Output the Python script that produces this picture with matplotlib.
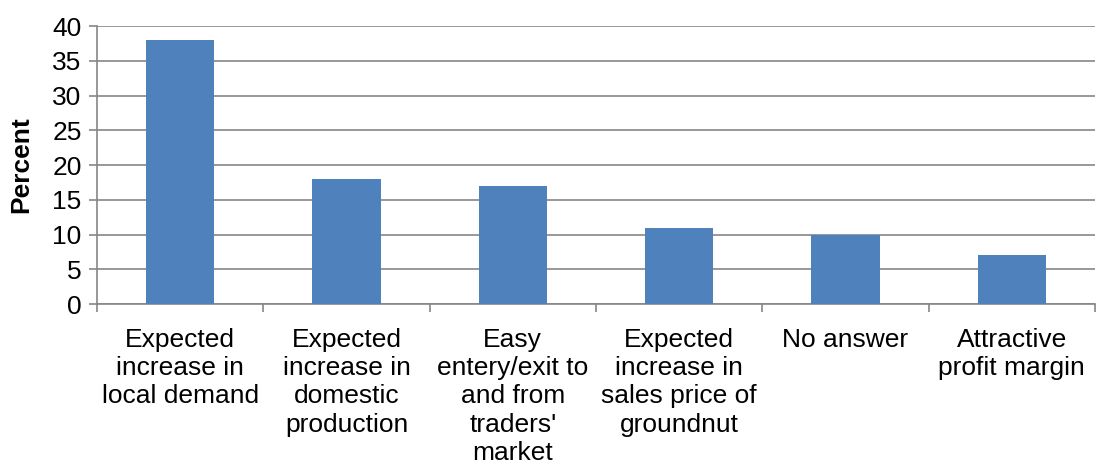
import matplotlib.pyplot as plt
import numpy as np

plt.rcParams['font.family'] = ['Liberation Sans', 'DejaVu Sans']

# datos del grafico
categorias = ["Expected\nincrease in\nlocal demand",
              "Expected\nincrease in\ndomestic\nproduction",
              "Easy\nentery/exit to\nand from\ntraders'\nmarket",
              "Expected\nincrease in\nsales price of\ngroundnut",
              "No answer",
              "Attractive\nprofit margin"]
porcentajes = [38, 18, 17, 11, 10, 7]
yticks = [0, 5, 10, 15, 20, 25, 30, 35, 40]

gris = "#868686"

fig = plt.figure(figsize=(11.02, 4.68), dpi=100)
ax = fig.add_axes([0.088, 0.3504, 0.9056, 0.594])

x = np.arange(len(categorias))
ax.bar(x, porcentajes, width=0.41, color="#4F81BD", zorder=3)

ax.set_xlim(-0.5, len(categorias) - 0.5)
ax.set_ylim(0, 40)
ax.set_yticks(yticks)
ax.grid(axis="y", color=gris, lw=1.2, zorder=0)

# ticks del eje x en los limites de cada categoria
ax.set_xticks(x)
ax.set_xticklabels(categorias, fontsize=19, linespacing=1.23, va="top")
ax.set_xticks(np.arange(len(categorias) + 1) - 0.5, minor=True)
ax.tick_params(axis="x", which="major", length=0, pad=17)
ax.tick_params(axis="x", which="minor", length=6, color=gris, width=1.2)
ax.tick_params(axis="y", length=6, color=gris, width=1.2, labelsize=19, pad=5)

for lado in ["top", "right"]:
    ax.spines[lado].set_visible(False)
for lado in ["left", "bottom"]:
    ax.spines[lado].set_color(gris)
    ax.spines[lado].set_linewidth(1.2)

ax.set_ylabel("Percent", fontsize=19, fontweight="bold", labelpad=14)

fig.savefig("out.png", dpi=100)
